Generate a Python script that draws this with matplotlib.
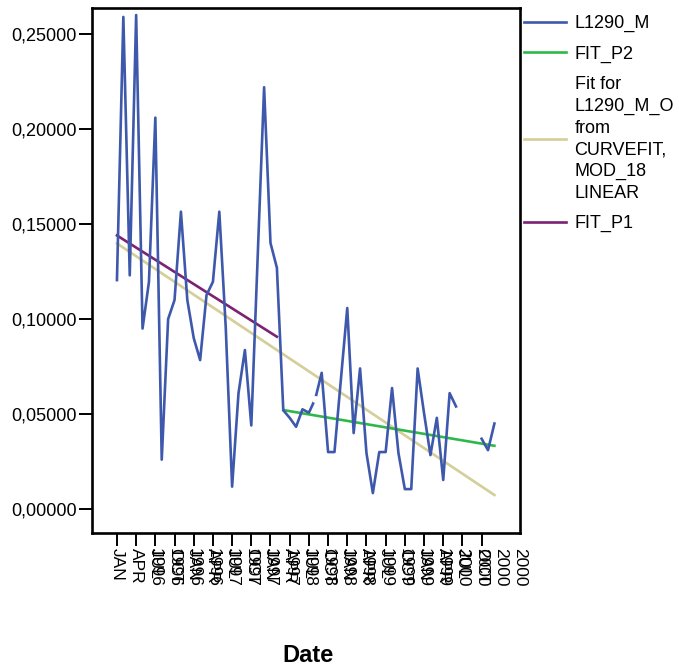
import matplotlib
matplotlib.use("Agg")
import matplotlib.pyplot as plt
import numpy as np

plt.rcParams['font.family'] = ['Liberation Sans', 'DejaVu Sans']

# monthly series, Jan 1996 .. Dec 2000 (nan = missing month)
l1290_m = [0.1205, 0.259, 0.123, 0.260, 0.095, 0.1195, 0.206, 0.026, 0.100, 0.110,
           0.1565, 0.110, 0.090, 0.0784, 0.1126, 0.1196, 0.1565, 0.096, 0.0118, 0.061,
           0.0837, 0.044, 0.133, 0.222, 0.140, 0.127, 0.052, 0.048, 0.0433, 0.0525,
           0.0507, 0.058, 0.0717, 0.030, 0.030, 0.068, 0.1058, 0.040, 0.074, 0.0295,
           0.0084, 0.030, 0.030, 0.0637, 0.0295, 0.0105, 0.0105, 0.074, 0.0505, 0.0284,
           0.048, 0.0153, 0.061, 0.054, np.nan, np.nan, np.nan, 0.037, 0.031, 0.045]

# fitted straight lines: month index of the ends and the fitted values there
fit_p1_months = [0, 25]
fit_p1 = [0.1440, 0.0907]
fit_p2_months = [26, 59]
fit_p2 = [0.0521, 0.0333]
curvefit_months = [0, 59]
curvefit = [0.1398, 0.0074]

tick_months = list(range(0, 60, 3))
month_names = ['JAN', 'APR', 'JUL', 'OCT'] * 5
year_names = ['1996'] * 4 + ['1997'] * 4 + ['1998'] * 4 + ['1999'] * 4 + ['2000'] * 4
y_ticks = [0.0, 0.05, 0.10, 0.15, 0.20, 0.25]

blue = '#3e58ac'
green = '#2fb84a'
tan = '#d5ce98'
purple = '#7b2272'

fig = plt.figure(figsize=(6.79, 6.69), dpi=100)
ax = fig.add_axes([92 / 679, 1 - 533 / 669, 428 / 679, 525 / 669])

months = np.arange(len(l1290_m))
ax.plot(curvefit_months, curvefit, color=tan, lw=1.9, zorder=2)
ax.plot(fit_p1_months, fit_p1, color=purple, lw=1.9, zorder=2)
ax.plot(fit_p2_months, fit_p2, color=green, lw=1.9, zorder=2)
ax.plot(months, l1290_m, color=blue, lw=1.9, zorder=3)
# small break in the series around Aug 1998
ax.plot(months[31], l1290_m[31], 'o', color='white', ms=5, mew=0, zorder=4)

ax.set_xlim(-3.9, 63)
ax.set_ylim(-0.0126, 0.2637)

ax.set_yticks(y_ticks)
ax.set_yticklabels([f'{v:.5f}'.replace('.', ',') for v in y_ticks], fontsize=13)
ax.set_xticks(tick_months)
ax.set_xticklabels(month_names, rotation=-90, ha='center', va='top', fontsize=12.5)
ax.tick_params(axis='both', length=9.5, width=1.4, pad=1.5)

# year line of each date label, set two ticks further right
for m, yr in zip(tick_months, year_names):
    ax.annotate(yr, xy=(m + 6, 0), xycoords=('data', 'axes fraction'),
                xytext=(0, -11), textcoords='offset points',
                rotation=-90, ha='center', va='top', fontsize=12.5,
                annotation_clip=False)

for s in ax.spines.values():
    s.set_linewidth(1.9)

fig.text(308 / 679, 1 - 655 / 669, 'Date', ha='center', va='center',
         fontsize=17, fontweight='bold')

handles = [plt.Line2D([], [], color=c, lw=1.9) for c in (blue, green, tan, purple)]
labels = ['L1290_M', 'FIT_P2',
          'Fit for\nL1290_M_O\nfrom\nCURVEFIT,\nMOD_18\nLINEAR', 'FIT_P1']
leg = fig.legend(handles, labels, loc='upper left',
                 bbox_to_anchor=(524 / 679, 1 - 15 / 669),
                 frameon=False, fontsize=13, handlelength=2.35, handletextpad=0.45,
                 borderpad=0, borderaxespad=0, labelspacing=0.75)
for t in leg.get_texts():
    t.set_linespacing(1.35)

fig.savefig('out.png', dpi=100)
